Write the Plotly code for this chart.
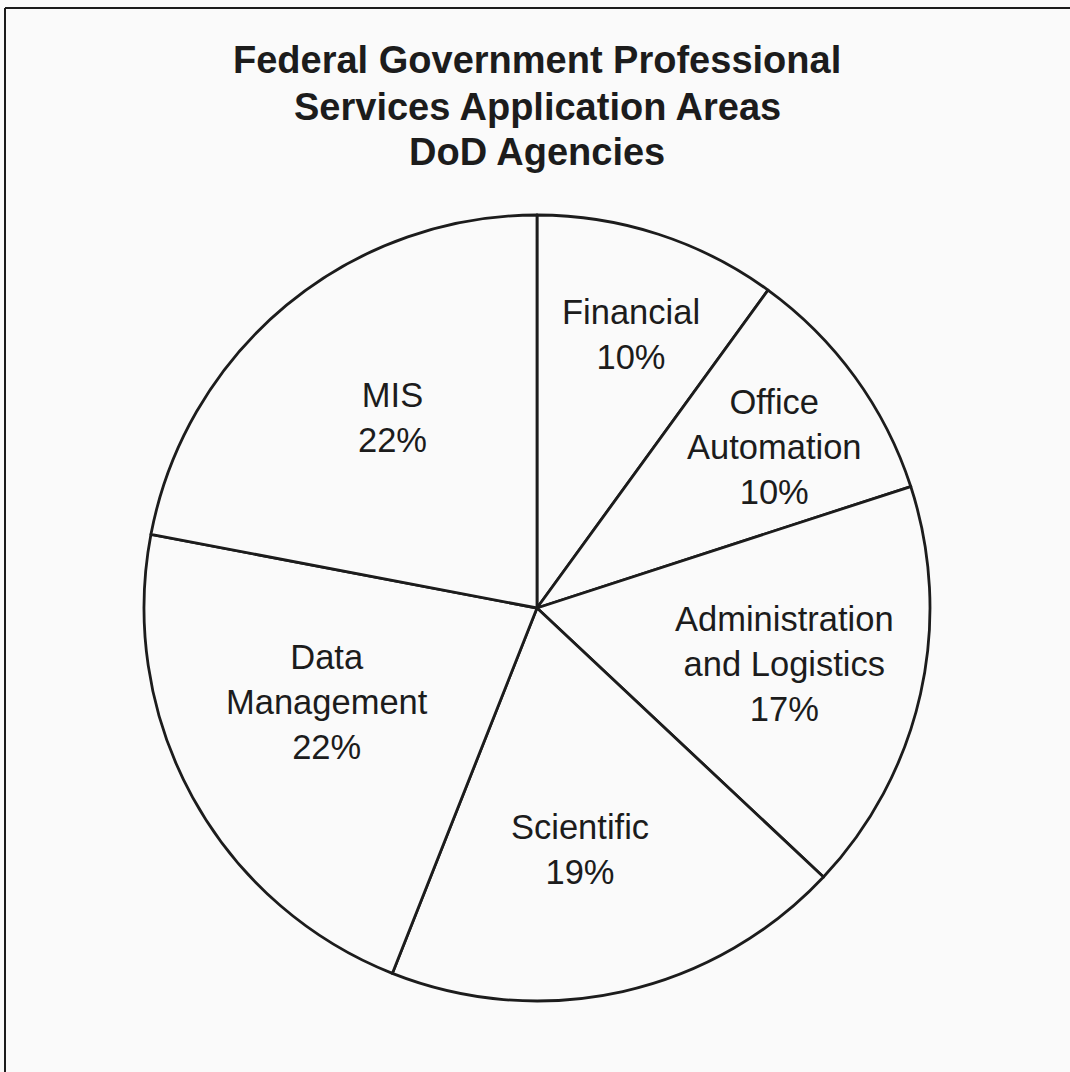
import math
import plotly.graph_objects as go

# ---- data ----
categories = ["Financial", "Office<br>Automation", "Administration<br>and Logistics",
              "Scientific", "Data<br>Management", "MIS"]
shares = [10, 10, 17, 19, 22, 22]
title_lines = ["Federal Government Professional",
               "Services Application Areas",
               "DoD Agencies"]

# ---- layout constants ----
W, H = 1070, 1072
CX, CY_FROM_BOTTOM, R = 537, 464, 393
label_radius = [0.735, 0.73, 0.645, 0.623, 0.585, 0.61]
label_angle_shift_deg = [1.0, 1.9, 0.2, 2.5, 4.7, 2.4]
BG = "#fafafa"
INK = "#1c1c1c"
FONT = "Liberation Sans, Arial, Helvetica, sans-serif"

fig = go.Figure(go.Pie(
    labels=categories,
    values=shares,
    sort=False,
    direction="clockwise",
    rotation=0,
    textinfo="none",
    hoverinfo="label+percent",
    showlegend=False,
    marker=dict(colors=[BG] * len(shares), line=dict(color=INK, width=2.8)),
    domain=dict(x=[(CX - R) / W, (CX + R) / W],
                y=[(CY_FROM_BOTTOM - R) / H, (CY_FROM_BOTTOM + R) / H]),
))

annotations = []
total = sum(shares)
cum = 0
for cat, v, rf, da in zip(categories, shares, label_radius, label_angle_shift_deg):
    mid = (cum + v / 2) / total * 2 * math.pi + math.radians(da)
    cum += v
    px = CX + rf * R * math.sin(mid)
    py = CY_FROM_BOTTOM + rf * R * math.cos(mid)
    annotations.append(dict(
        x=px / W, y=py / H, xref="paper", yref="paper",
        xanchor="center", yanchor="middle", showarrow=False, align="center",
        text=f"{cat}<br>{round(v / total * 100)}%",
        font=dict(family=FONT, size=34.5, color=INK),
    ))

title_y = [60, 107, 152]
for line, ty in zip(title_lines, title_y):
    annotations.append(dict(
        x=CX / W, y=1 - ty / H, xref="paper", yref="paper",
        xanchor="center", yanchor="middle", showarrow=False,
        text=f"<b>{line}</b>",
        font=dict(family=FONT, size=38, color=INK),
    ))

shapes = [
    dict(type="line", xref="paper", yref="paper", x0=5 / W, x1=1, y0=1 - 8 / H, y1=1 - 8 / H,
         line=dict(color=INK, width=2)),
    dict(type="line", xref="paper", yref="paper", x0=5 / W, x1=5 / W, y0=0, y1=1 - 8 / H,
         line=dict(color=INK, width=2)),
]

fig.update_layout(
    width=W, height=H,
    margin=dict(l=0, r=0, t=0, b=0),
    paper_bgcolor=BG, plot_bgcolor=BG,
    annotations=annotations,
    shapes=shapes,
)

fig.write_html(
    "out.html",
    config={"displayModeBar": False},
    post_script="document.body.style.margin='0';document.body.style.overflow='hidden';",
)
